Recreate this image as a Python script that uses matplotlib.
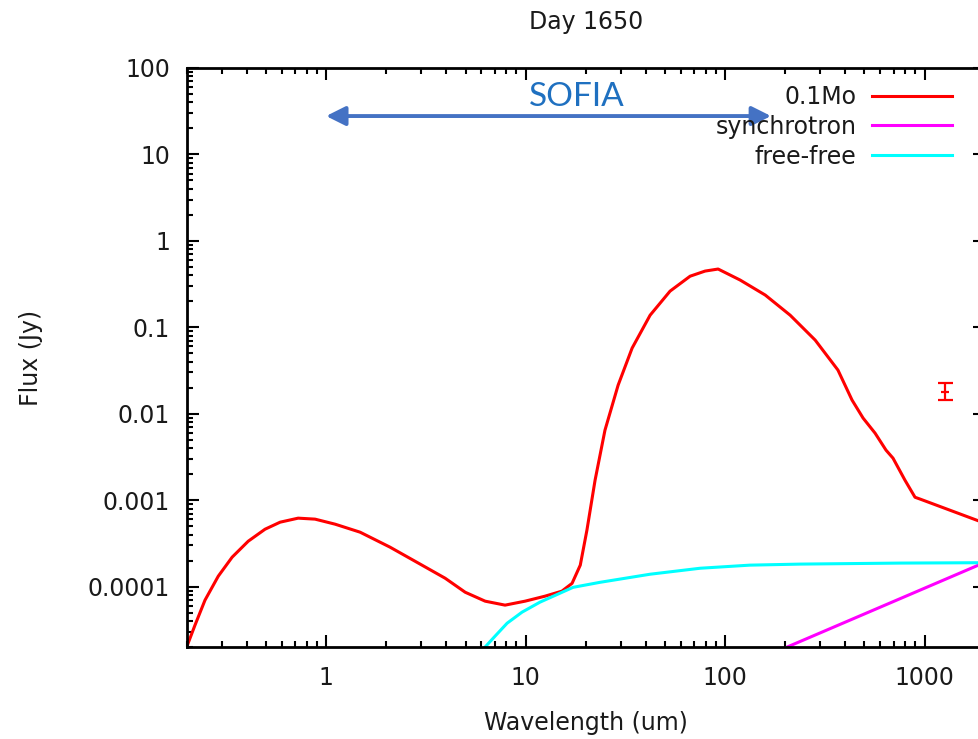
import matplotlib
matplotlib.use('Agg')
import matplotlib.pyplot as plt

# SED model for day 1650, wavelengths in um, flux in Jy
dust_wl = [0.2, 0.22, 0.247, 0.288, 0.338, 0.407, 0.494, 0.588, 0.724, 0.88,
           1.11, 1.48, 2.09, 2.96, 3.95, 4.98, 6.27, 7.89, 9.94, 12.5,
           15.2, 17.1, 18.8, 20.3, 22.3, 25.0, 29.1, 34.2, 42.1, 53.0,
           66.8, 79.4, 92.3, 119, 159, 212, 283, 368, 433, 492,
           565, 641, 695, 798, 896, 949, 2010]
dust_flux = [2.0e-5, 3.57e-5, 6.96e-5, 1.32e-4, 2.19e-4, 3.35e-4, 4.61e-4, 5.56e-4, 6.19e-4, 6.03e-4,
             5.27e-4, 4.26e-4, 2.86e-4, 1.82e-4, 1.25e-4, 8.6e-5, 6.78e-5, 6.1e-5, 6.78e-5, 7.74e-5,
             8.85e-5, 1.09e-4, 1.77e-4, 4.5e-4, 1.7e-3, 6.45e-3, 0.0214, 0.0574, 0.138, 0.262,
             0.39, 0.447, 0.472, 0.352, 0.236, 0.138, 0.0711, 0.032, 0.0144, 8.9e-3,
             5.96e-3, 3.79e-3, 3.06e-3, 1.70e-3, 1.08e-3, 1.03e-3, 5.4e-4]

sync_wl = [205, 2000]
sync_flux = [2.0e-5, 1.9e-4]

ff_wl = [6.27, 7.03, 8.08, 9.6, 11.8, 17.3, 23.6, 42.1, 75, 133, 238, 754, 2010]
ff_flux = [2.0e-5, 2.67e-5, 3.77e-5, 5.06e-5, 6.6e-5, 9.8e-5, 1.12e-4, 1.39e-4,
           1.63e-4, 1.77e-4, 1.82e-4, 1.87e-4, 1.89e-4]

# measured point (mm)
obs_wl = [1270]
obs_flux = [0.018]
obs_err_lo = [0.0037]
obs_err_hi = [0.0045]

sofia_range = [1, 170]

xticks = [1, 10, 100, 1000]
xticklabels = ['1', '10', '100', '1000']
yticks = [1e-4, 1e-3, 1e-2, 1e-1, 1, 10, 100]
yticklabels = ['0.0001', '0.001', '0.01', '0.1', '1', '10', '100']

plt.rcParams['font.family'] = ['DejaVu Sans']
fs = 17

fig = plt.figure(figsize=(9.79, 7.39), dpi=100)
ax = fig.add_axes([0.1907, 0.1245, 0.815, 0.7835])

l1, = ax.plot(dust_wl, dust_flux, color='#ff0000', lw=2.2, label='0.1Mo')
l2, = ax.plot(sync_wl, sync_flux, color='#ff00ff', lw=2.2, label='synchrotron')
l3, = ax.plot(ff_wl, ff_flux, color='#00ffff', lw=2.2, label='free-free')
ax.errorbar(obs_wl, obs_flux, yerr=[obs_err_lo, obs_err_hi], fmt='_', color='#ff0000',
            ms=6, mew=1.6, elinewidth=1.6, capsize=5.4, capthick=1.6)

ax.set_xscale('log')
ax.set_yscale('log')
ax.set_xlim(0.2, 2000)
ax.set_ylim(2e-5, 100)

ax.set_xticks(xticks)
ax.set_xticklabels(xticklabels)
ax.set_yticks(yticks)
ax.set_yticklabels(yticklabels)
ax.xaxis.set_minor_formatter(matplotlib.ticker.NullFormatter())
ax.yaxis.set_minor_formatter(matplotlib.ticker.NullFormatter())
ax.tick_params(which='both', direction='in', top=True, right=True, width=1.5,
               labelsize=fs, colors='black', labelcolor='#1a1a1a')
ax.tick_params(which='major', length=8.5)
ax.tick_params(which='minor', length=4.3)
ax.tick_params(axis='x', pad=14)
ax.tick_params(axis='y', pad=12)
for s in ax.spines.values():
    s.set_linewidth(2)

ax.set_title('Day 1650', fontsize=fs, pad=28, color='#1a1a1a')
ax.set_xlabel('Wavelength (um)', fontsize=fs, labelpad=15, color='#1a1a1a')
ax.set_ylabel('Flux (Jy)', fontsize=fs, labelpad=32, color='#1a1a1a')

# SOFIA coverage arrow
ax.annotate('', xy=(sofia_range[1], 27.8), xytext=(sofia_range[0], 27.8),
            arrowprops=dict(arrowstyle='<|-|>', color='#4472C4', lw=2.8,
                            mutation_scale=29, shrinkA=0, shrinkB=0))
ax.text(18.1, 46, 'SOFIA', color='#1F70C0', fontsize=24, family=['Lato', 'DejaVu Sans'],
        ha='center', va='center')

leg = ax.legend(handles=[l1, l2, l3], loc='upper right', bbox_to_anchor=(0.959, 0.971),
                frameon=False, markerfirst=False, fontsize=fs, handlelength=3.4,
                handletextpad=0.65, labelspacing=0.25, borderpad=0, borderaxespad=0,
                labelcolor='#1a1a1a')
for col in leg._legend_handle_box.get_children():
    col.align = 'right'

fig.savefig('out.png', dpi=100)
